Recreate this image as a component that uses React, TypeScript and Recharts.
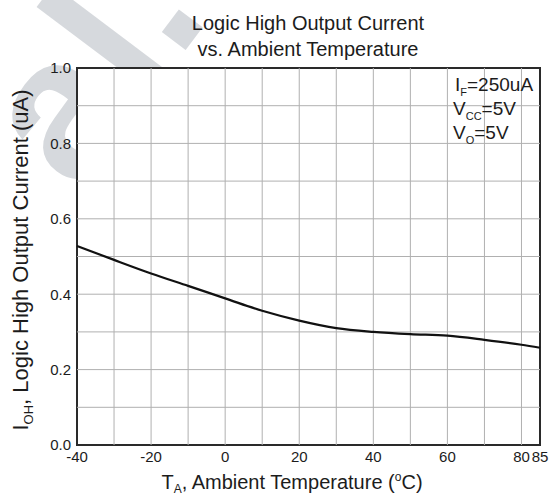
import { LineChart, Line, XAxis, YAxis, ReferenceLine, ReferenceArea } from "recharts";

// curve
const temps = [-40, -30, -20, -10, 0, 10, 20, 30, 40, 50, 60, 70, 80, 85];
const currents = [0.528, 0.491, 0.455, 0.422, 0.389, 0.356, 0.33, 0.31, 0.3, 0.294, 0.29, 0.279, 0.266, 0.258];

const xTicks = [-40, -20, 0, 20, 40, 60, 80, 85];
const yTicks = [0, 0.2, 0.4, 0.6, 0.8, 1.0];
const gridTemps = [-30, -20, -10, 0, 10, 20, 30, 40, 50, 60, 70, 80];
const gridCurrents = [0.1, 0.2, 0.3, 0.4, 0.5, 0.6, 0.7, 0.8, 0.9];

// white patch behind the test conditions, upper right corner
const noteFromTemp = 61;
const noteFromCurrent = 0.765;

const font = '"Liberation Sans", Arial, sans-serif';
const ink = "#1c1c1c";

const data = temps.map((t, i) => ({ t, ioh: currents[i] }));

export default function App() {
  return (
    <div style={{ position: "absolute", left: 0, top: 0, width: 551, height: 495, background: "#fff" }}>
      {/* faint watermark, mostly hidden behind the plot */}
      <svg width={551} height={495} style={{ position: "absolute", left: 0, top: 0 }}>
        <text
          x={77}
          y={194}
          transform="rotate(-53 77 194)"
          fontFamily={font}
          fontWeight="bold"
          fontSize={200}
          fill="#d6d9dd"
        >
          al.
        </text>
      </svg>
      <div style={{ position: "absolute", left: 0, top: 0 }}>
        <LineChart width={551} height={495} data={data} margin={{ top: 68, right: 11, bottom: 25, left: 0 }}>
          <XAxis
            dataKey="t"
            type="number"
            domain={[-40, 85]}
            ticks={xTicks}
            interval={0}
            axisLine={false}
            tickLine={false}
            tickSize={0}
            tickMargin={6}
            height={25}
            tick={{ fontSize: 15, fill: ink, fontFamily: font }}
          />
          <YAxis
            type="number"
            domain={[0, 1]}
            ticks={yTicks}
            interval={0}
            axisLine={false}
            tickLine={false}
            tickSize={0}
            tickMargin={6}
            width={77}
            tickFormatter={(v) => Number(v).toFixed(1)}
            tick={{ fontSize: 15, fill: ink, fontFamily: font }}
          />
          <ReferenceArea x1={-40} x2={85} y1={0} y2={1} fill="#fff" fillOpacity={1} stroke="none" />
          {gridTemps.map((v) => (
            <ReferenceLine key={"x" + v} x={v} stroke="#b0b0b0" strokeWidth={1} />
          ))}
          {gridCurrents.map((v) => (
            <ReferenceLine key={"y" + v} y={v} stroke="#b0b0b0" strokeWidth={1} />
          ))}
          <ReferenceArea x1={noteFromTemp} x2={85} y1={noteFromCurrent} y2={1} fill="#fff" fillOpacity={1} stroke="none" />
          <Line
            type="monotone"
            dataKey="ioh"
            stroke="#111"
            strokeWidth={2.2}
            dot={false}
            isAnimationActive={false}
          />
          <ReferenceArea x1={-40} x2={85} y1={0} y2={1} fill="none" stroke="#2a2a2a" strokeWidth={2} />
        </LineChart>
      </div>
      <svg
        width={551}
        height={495}
        style={{ position: "absolute", left: 0, top: 0, pointerEvents: "none" }}
        fontFamily={font}
        fill={ink}
      >
        <text x={308} y={30} fontSize={20} textAnchor="middle">
          Logic High Output Current
        </text>
        <text x={308} y={56} fontSize={20} textAnchor="middle">
          vs. Ambient Temperature
        </text>
        <text transform="translate(28 260) rotate(-90)" fontSize={22} textAnchor="middle">
          I<tspan fontSize={13} dy={5}>OH</tspan>
          <tspan dy={-5}>, Logic High Output Current (uA)</tspan>
        </text>
        <text x={292} y={489} fontSize={20} textAnchor="middle">
          T<tspan fontSize={12} dy={4}>A</tspan>
          <tspan dy={-4}>, Ambient Temperature (</tspan>
          <tspan fontSize={12} dy={-8}>o</tspan>
          <tspan dy={8}>C)</tspan>
        </text>
        <g fontSize={19}>
          <text x={455} y={91}>
            I<tspan fontSize={11} dy={5}>F</tspan>
            <tspan dy={-5}>=250uA</tspan>
          </text>
          <text x={453} y={115}>
            V<tspan fontSize={11} dy={5}>CC</tspan>
            <tspan dy={-5}>=5V</tspan>
          </text>
          <text x={453} y={139}>
            V<tspan fontSize={11} dy={5}>O</tspan>
            <tspan dy={-5}>=5V</tspan>
          </text>
        </g>
      </svg>
    </div>
  );
}
